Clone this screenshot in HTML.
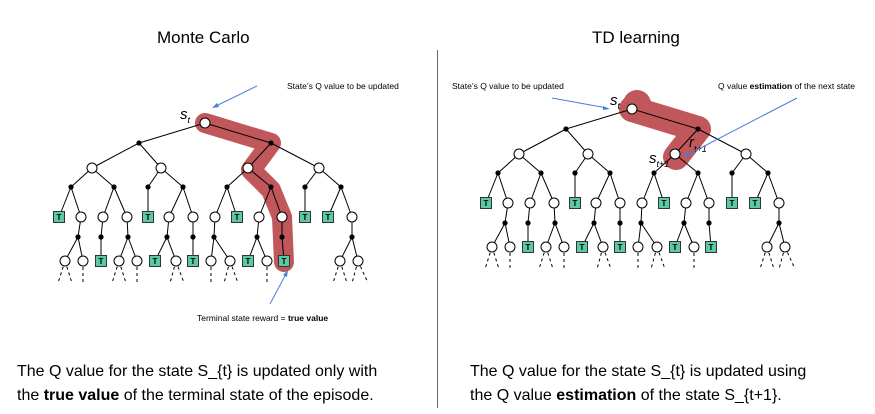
<!DOCTYPE html>
<html><head><meta charset="utf-8"><style>
html,body{margin:0;padding:0;background:#fff;}
svg{display:block;}
text{font-family:"Liberation Sans",sans-serif;}
</style></head><body>
<svg width="875" height="414" viewBox="0 0 875 414" xmlns="http://www.w3.org/2000/svg">
<defs>
<g id="edges" stroke="#000" stroke-width="1" fill="none">
<path d="M205,123L139,143M205,123L271,143M139,143L92,168M139,143L161,168M271,143L248,168M271,143L319,168
M92,168L71,187M92,168L114,187M161,168L148,187M161,168L183,187M248,168L227,187M248,168L271,187M319,168L305,187M319,168L341,187
M71,187L59,217M71,187L81,217M114,187L103,217M114,187L127,217M148,187L148,217M183,187L169,217M183,187L193,217M227,187L215,217M227,187L237,217M271,187L259,217M271,187L282,217M305,187L305,217M341,187L328,217M341,187L352,217
M81,217L78,237M103,217L101,237M127,217L128,237M169,217L167,237M193,217L193,237M215,217L214,237M259,217L257,237M282,217L282,237M352,217L352,237
M78,237L65,261M78,237L83,261M101,237L101,261M128,237L119,261M128,237L137,261M167,237L155,261M167,237L176,261M193,237L193,261M214,237L211,261M214,237L230,261M257,237L248,261M257,237L267,261M282,237L284,261M352,237L340,261M352,237L358,261"/>
<path stroke-dasharray="3,3" d="M65,261L58,283M65,261L72,283M83,261L83,283M119,261L112,283M119,261L126,283M137,261L137,283M176,261L170,283M176,261L184,283M211,261L211,283M230,261L224,283M230,261L238,283M267,261L267,283M340,261L333,283M340,261L347,283M358,261L352,283M358,261L368,283"/>
</g>
<g id="nodes">
<g fill="#fff" stroke="#000" stroke-width="1">
<circle cx="205" cy="123" r="5"/>
<circle cx="92" cy="168" r="5"/><circle cx="161" cy="168" r="5"/><circle cx="248" cy="168" r="5"/><circle cx="319" cy="168" r="5"/>
<circle cx="81" cy="217" r="5"/><circle cx="103" cy="217" r="5"/><circle cx="127" cy="217" r="5"/><circle cx="169" cy="217" r="5"/><circle cx="193" cy="217" r="5"/><circle cx="215" cy="217" r="5"/><circle cx="259" cy="217" r="5"/><circle cx="282" cy="217" r="5"/><circle cx="352" cy="217" r="5"/>
<circle cx="65" cy="261" r="5"/><circle cx="83" cy="261" r="5"/><circle cx="119" cy="261" r="5"/><circle cx="137" cy="261" r="5"/><circle cx="176" cy="261" r="5"/><circle cx="211" cy="261" r="5"/><circle cx="230" cy="261" r="5"/><circle cx="267" cy="261" r="5"/><circle cx="340" cy="261" r="5"/><circle cx="358" cy="261" r="5"/>
</g>
<g fill="#000">
<circle cx="139" cy="143" r="2.6"/><circle cx="271" cy="143" r="2.6"/>
<circle cx="71" cy="187" r="2.6"/><circle cx="114" cy="187" r="2.6"/><circle cx="148" cy="187" r="2.6"/><circle cx="183" cy="187" r="2.6"/><circle cx="227" cy="187" r="2.6"/><circle cx="271" cy="187" r="2.6"/><circle cx="305" cy="187" r="2.6"/><circle cx="341" cy="187" r="2.6"/>
<circle cx="78" cy="237" r="2.6"/><circle cx="101" cy="237" r="2.6"/><circle cx="128" cy="237" r="2.6"/><circle cx="167" cy="237" r="2.6"/><circle cx="193" cy="237" r="2.6"/><circle cx="214" cy="237" r="2.6"/><circle cx="257" cy="237" r="2.6"/><circle cx="282" cy="237" r="2.6"/><circle cx="352" cy="237" r="2.6"/>
</g>
<g fill="#5cc9a3" stroke="#333" stroke-width="1">
<rect x="53.5" y="211.5" width="11" height="11"/><rect x="142.5" y="211.5" width="11" height="11"/><rect x="231.5" y="211.5" width="11" height="11"/><rect x="299.5" y="211.5" width="11" height="11"/><rect x="322.5" y="211.5" width="11" height="11"/>
<rect x="95.5" y="255.5" width="11" height="11"/><rect x="149.5" y="255.5" width="11" height="11"/><rect x="187.5" y="255.5" width="11" height="11"/><rect x="242.5" y="255.5" width="11" height="11"/><rect x="278.5" y="255.5" width="11" height="11"/>
</g>
</g>
</defs>

<text x="157" y="43" font-size="17">Monte Carlo</text>
<text x="592" y="43" font-size="17">TD learning</text>
<line x1="437.5" y1="50" x2="437.5" y2="408" stroke="#666" stroke-width="1"/>

<!-- Left tree -->
<path d="M205,123L271,143L251,170L271,190L282,217L284,262" stroke="#c0575b" stroke-width="20" fill="none" stroke-linejoin="round" stroke-linecap="round"/>
<use href="#edges"/>
<use href="#nodes"/>
<g font-size="8" font-weight="bold" text-anchor="middle" fill="#000">
<text x="59" y="220">T</text><text x="148" y="220">T</text><text x="237" y="220">T</text><text x="305" y="220">T</text><text x="328" y="220">T</text>
<text x="101" y="264">T</text><text x="155" y="264">T</text><text x="193" y="264">T</text><text x="248" y="264">T</text><text x="284" y="264">T</text>
</g>
<text x="180" y="119" font-size="15" font-style="italic" font-family="Liberation Serif,serif">s<tspan font-size="9" dy="4">t</tspan></text>
<text x="287" y="89" font-size="8.5">State’s Q value to be updated</text>
<line x1="257" y1="86" x2="214" y2="107" stroke="#4a7fd6" stroke-width="1"/>
<path d="M212,108l7,-1l-2,-4z" fill="#4a7fd6"/>
<line x1="270" y1="304" x2="287" y2="272" stroke="#4a7fd6" stroke-width="1"/>
<path d="M288,270l-1,7l-4,-2z" fill="#4a7fd6"/>
<text x="197" y="321" font-size="8.5">Terminal state reward = <tspan font-weight="bold">true value</tspan></text>

<!-- Right tree -->
<g transform="translate(427,-14)">
<path d="M205,123L271,143L249,171" stroke="#c0575b" stroke-width="26" fill="none" stroke-linejoin="round" stroke-linecap="round"/>
<circle cx="210" cy="118" r="14" fill="#c0575b"/>
<use href="#edges"/>
<use href="#nodes"/>
<g font-size="8" font-weight="bold" text-anchor="middle" fill="#000">
<text x="59" y="220">T</text><text x="148" y="220">T</text><text x="237" y="220">T</text><text x="305" y="220">T</text><text x="328" y="220">T</text>
<text x="101" y="264">T</text><text x="155" y="264">T</text><text x="193" y="264">T</text><text x="248" y="264">T</text><text x="284" y="264">T</text>
</g>
</g>
<text x="610" y="105" font-size="15" font-style="italic" font-family="Liberation Serif,serif">s<tspan font-size="9" dy="4">t</tspan></text>
<text x="649" y="163" font-size="15" font-style="italic" font-family="Liberation Serif,serif">s<tspan font-size="9" dy="4">t+1</tspan></text>
<text x="689" y="147" font-size="15" font-style="italic" font-family="Liberation Serif,serif">r<tspan font-size="9" dy="5">t+1</tspan></text>
<text x="452" y="89" font-size="8.5">State’s Q value to be updated</text>
<line x1="552" y1="98" x2="607" y2="108" stroke="#4a7fd6" stroke-width="1"/>
<path d="M610,109l-7,-3l0,4z" fill="#4a7fd6"/>
<text x="718" y="89" font-size="8.5">Q value <tspan font-weight="bold">estimation</tspan> of the next state</text>
<line x1="797" y1="98" x2="685" y2="156" stroke="#4a7fd6" stroke-width="1"/>
<path d="M683,157l7,-1l-2,-4z" fill="#4a7fd6"/>

<g font-size="16" fill="#000">
<text x="17" y="376">The Q value for the state S_{t} is updated only with</text>
<text x="17" y="400">the <tspan font-weight="bold">true value</tspan> of the terminal state of the episode.</text>
<text x="470" y="376">The Q value for the state S_{t} is updated using</text>
<text x="470" y="400">the Q value <tspan font-weight="bold">estimation</tspan> of the state S_{t+1}.</text>
</g>
</svg>
</body></html>
